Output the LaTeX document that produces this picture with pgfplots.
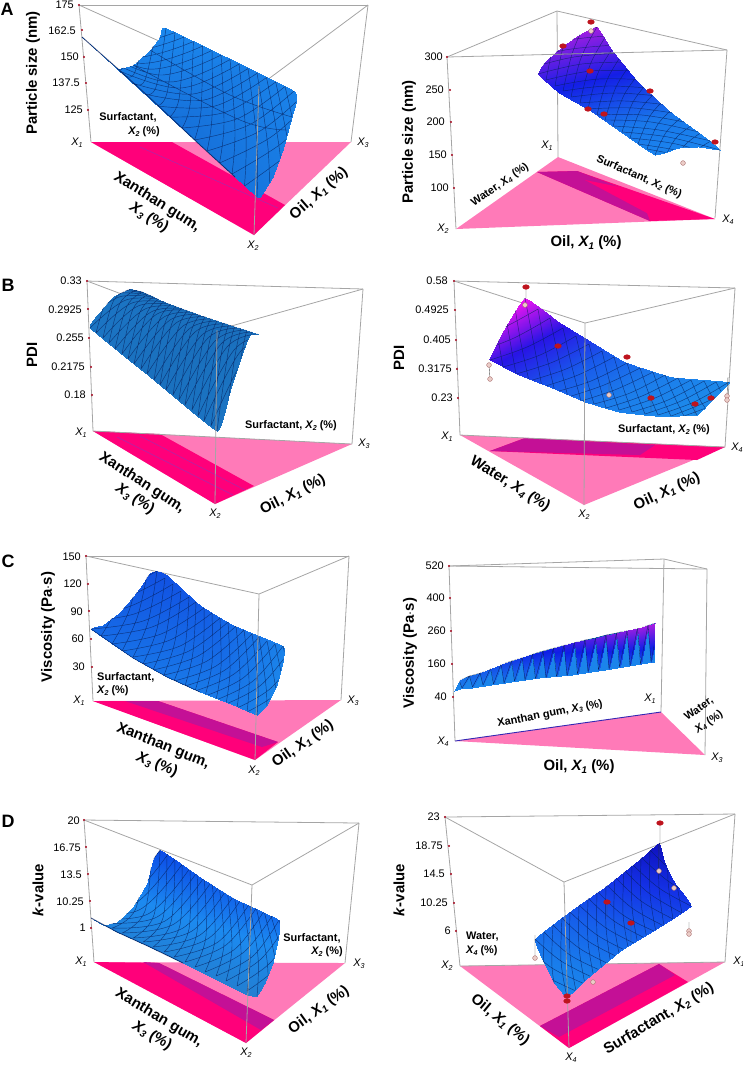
\documentclass[border=0pt]{standalone}
\usepackage{fontspec}
\setmainfont{Liberation Sans}
\usepackage{pgfplots}
\pgfplotsset{compat=1.18}
\definecolor{pinkl}{RGB}{255,122,184}
\definecolor{pinkh}{RGB}{255,0,122}
\definecolor{pinkd}{RGB}{196,16,150}
\definecolor{greyl}{RGB}{165,165,165}
\definecolor{tickr}{RGB}{170,30,50}
\definecolor{redm}{RGB}{190,20,30}
\definecolor{contour}{RGB}{170,40,170}
\definecolor{navy}{RGB}{5,30,90}
\pgfplotsset{
  px/.style={at={(0,0)},anchor=north west,x=1bp,y=1bp,y dir=reverse,xmin=0,xmax=743,ymin=0,ymax=1066,hide axis},
  base/.style={draw=none,fill=pinkl},
  band/.style={draw=none,fill=pinkh},
  bandd/.style={draw=none,fill=pinkd},
  frame/.style={greyl,line width=.8pt,no marks},
  cont/.style={contour,line width=.5pt,no marks},
  fold/.style={navy,opacity=.75,line width=.9pt,no marks},
  grad/.style={patch,patch type=rectangle,shader=interp,point meta=explicit,point meta min=0,point meta max=1},
  lat/.style={draw=navy,opacity=.7,line width=.45pt,no marks,smooth,tension=.6,unbounded coords=jump},
  tk/.style={only marks,mark=*,mark size=.8pt,color=tickr},
  rm/.style={only marks,mark=*,mark size=2.6pt,color=redm},
  pm/.style={only marks,mark=*,mark size=2.4pt,mark options={fill={rgb,255:red,235;green,205;blue,200},draw={rgb,255:red,170;green,110;blue,110}}},
  drop/.style={draw=black!70,line width=.4pt,no marks,unbounded coords=jump},
}
\newcommand\X[1]{\textit{X\raisebox{-.3ex}{\scalebox{.65}{#1}}}}
\tikzset{
  t/.style={anchor=east,inner sep=0,font=\fontsize{11}{11}\selectfont},
  v/.style={inner sep=0,font=\fontsize{11}{11}\selectfont},
  s/.style={inner sep=0,font=\fontsize{11}{11}\selectfont\bfseries},
  b/.style={inner sep=0,font=\fontsize{15}{15}\selectfont\bfseries},
  l/.style={inner sep=0,font=\fontsize{18}{18}\selectfont\bfseries},
}
\begin{document}
\begin{tikzpicture}[x=1bp,y=-1bp]
\useasboundingbox (0,0) rectangle (743,1066);
% floor triangles and back edges
\begin{axis}[px]
\addplot[base] coordinates {(91,142)(351,142)(254,235)};
\addplot[band] coordinates {(91,142)(172,142)(285,205)(254,235)};
\addplot[cont] coordinates {(140,147)(278,208)};
\addplot[base] coordinates {(456,229)(558,157)(715,219)};
\addplot[band] coordinates {(537,172)(577,171)(715,219)(650,221)};
\addplot[bandd] coordinates {(537,172)(577,171)(640,195)(650,221)};
\addplot[band] coordinates {(585,180)(620,187)(700,218)(660,220)};
\addplot[base] coordinates {(93,431)(352,444)(215,504)};
\addplot[band] coordinates {(93,431)(160,434)(254,486)(215,504)};
\addplot[cont] coordinates {(117,437)(233,495)};
\addplot[cont] coordinates {(140,436)(245,490)};
\addplot[base] coordinates {(460,435)(725,447)(584,505)};
\addplot[band] coordinates {(490,451)(525,438)(725,447)(697,460)};
\addplot[bandd] coordinates {(490,451)(525,438)(655,445)(640,455)};
\addplot[base] coordinates {(93,701)(341,700)(255,760)};
\addplot[band] coordinates {(93,701)(158,701)(278,742)(255,760)};
\addplot[bandd] coordinates {(125,701)(158,701)(278,742)(262,747)};
\addplot[base] coordinates {(455,741)(661,712)(705,755)};
\addplot[base] coordinates {(94,962)(345,963)(246,1043)};
\addplot[band] coordinates {(94,962)(159,963)(274,1020)(246,1043)};
\addplot[bandd] coordinates {(143,962)(159,963)(274,1020)(261,1030)};
\addplot[base] coordinates {(460,966)(725,962)(569,1048)};
\addplot[band] coordinates {(540,1026)(659,964)(688,982)(569,1048)};
\addplot[bandd] coordinates {(540,1026)(659,964)(675,975)(559,1037)};
% back edges
\addplot[frame] coordinates {(79,5)(368,5)};
\addplot[frame] coordinates {(79,5)(259,86)(368,5)};
\addplot[frame] coordinates {(79,5)(91,142)};
\addplot[frame] coordinates {(368,5)(351,142)};
\addplot[frame] coordinates {(447,57)(557,11)(727,50)};
\addplot[frame] coordinates {(557,11)(558,157)};
\addplot[frame] coordinates {(87,281)(363,289)};
\addplot[frame] coordinates {(87,281)(217,330)(363,289)};
\addplot[frame] coordinates {(87,281)(93,431)};
\addplot[frame] coordinates {(363,289)(352,444)};
\addplot[frame] coordinates {(93,431)(352,444)};
\addplot[frame] coordinates {(454,281)(735,288)};
\addplot[frame] coordinates {(454,281)(585,323)(735,288)};
\addplot[frame] coordinates {(454,281)(460,435)};
\addplot[frame] coordinates {(735,288)(725,447)};
\addplot[frame] coordinates {(460,435)(725,447)};
\addplot[frame] coordinates {(86,556)(349,556)};
\addplot[frame] coordinates {(86,556)(259,594)(349,556)};
\addplot[frame] coordinates {(86,556)(93,701)};
\addplot[frame] coordinates {(349,556)(341,700)};
\addplot[frame] coordinates {(449,566)(707,569)};
\addplot[frame] coordinates {(449,566)(664,559)(707,569)};
\addplot[frame] coordinates {(664,559)(661,712)};
\addplot[frame] coordinates {(449,566)(455,741)};
\addplot[frame] coordinates {(707,569)(705,755)};
\addplot[draw={rgb,255:red,50;green,40;blue,180},line width=.9pt,no marks] coordinates {(455,741)(661,712)};
\addplot[frame] coordinates {(84,820)(359,823)};
\addplot[frame] coordinates {(84,820)(252,885)(359,823)};
\addplot[frame] coordinates {(84,820)(94,962)};
\addplot[frame] coordinates {(359,823)(345,963)};
\addplot[frame] coordinates {(445,817)(735,814)};
\addplot[frame] coordinates {(445,817)(564,882)(735,814)};
\addplot[frame] coordinates {(445,817)(460,966)};
\addplot[frame] coordinates {(735,814)(725,962)};
\addplot[frame] coordinates {(460,966)(725,962)};
\end{axis}
% surface A left
\begin{scope}
\clip plot[smooth cycle,tension=.2] coordinates {(82,37)(117,68)(133,65)(150,50)(160,37)(166,28)(294,91)(292,117)(283,150)(273,177)(263,193)(257,197)(200,145)};
\begin{axis}[px,colormap={a}{rgb255=(28,138,240) rgb255=(14,80,190)}]
\addplot[grad] table[meta=c,row sep=\\] {x y c\\ 70 20 .0\\ 310 20 .0\\ 310 210 .25\\ 70 210 .8\\};
\addplot[lat] coordinates {
(32,-9)(103,44)(175,32.5)(nan,nan)(44.5,3)(114,51)(184,37)(nan,nan)(57,14)(125,57)(193.4,41.5)(nan,nan)
(69.5,26)(137,63)(202.6,46)(nan,nan)(82,37)(148,69)(211.7,50.5)(nan,nan)(94.5,48)(159,75)(221,55)(nan,nan)
(107,60)(170,82)(230,59.5)(nan,nan)(119.5,71)(181,88)(239,64)(nan,nan)(132,83)(193,94)(248,68.5)(nan,nan)
(144.5,94)(204,100)(257.4,73)(nan,nan)(157,106)(215,106)(266.5,77.5)(nan,nan)(169.5,117)(226,112)(275.7,82)(nan,nan)
(182,128)(237.6,118.6)(285,86.5)(nan,nan)(194.5,140)(249,125)(294,91)(nan,nan)(207,151)(260,131)(303,95.5)(nan,nan)
(219.5,163)(271,137)(312,100)(nan,nan)(232,174)(282,143)(321,104.5)(nan,nan)(244.5,186)(294,149)(330,109)(nan,nan)
(94.5,48)(111,62)(129,10)(nan,nan)(107,60)(123,68)(139,14.5)(nan,nan)(119.5,71)(134,74)(148,19)(nan,nan)
(132,83)(145,80)(157,23.5)(nan,nan)(144.5,94)(156,87)(166,28)(nan,nan)(157,106)(167,93)(175,32.5)(nan,nan)
(169.5,117)(179,99)(184,37)(nan,nan)(182,128)(190,105)(193.4,41.5)(nan,nan)(194.5,140)(201,111)(202.6,46)(nan,nan)
(207,151)(212,117)(212,50.5)(nan,nan)(219.5,163)(224,124)(221,55)(nan,nan)(232,174)(235,130)(230,59.5)(nan,nan)
(244.5,186)(246,136)(239,64)(nan,nan)(257,197)(257,142)(248,68.5)(nan,nan)(269.5,208)(268,148)(257,73)(nan,nan)
(282,220)(280,154)(266.5,77.5)(nan,nan)(294,231)(291,161)(275.7,82)(nan,nan)(307,243)(302,167)(285,86.5)(nan,nan)
(133,65)(240,120)(288,130)(nan,nan)(150,50)(230,95)(292,117)(nan,nan)(259,86)(254,235)
};
\end{axis}
\end{scope}
% surface A right
\begin{scope}
\clip plot[smooth cycle,tension=.2] coordinates {(538,74)(545,62)(562,47)(579,35)(597,27)(612,50)(639,83)(672,113)(705,137)(720,150)(699,147)(679,148)(655,155)(622,133)(589,110)(559,93)};
\begin{axis}[px,colormap={b}{rgb255=(28,138,240) rgb255=(25,120,235) rgb255=(20,30,230) rgb255=(170,30,225)}]
\addplot[grad] table[meta=c,row sep=\\] {x y c\\ 784 -23 1\\ 823 133 0\\ 435 229 0\\ 396 73 1\\};
\addplot[lat] coordinates {
(505,51)(548,35)(597,27)(nan,nan)(513,57)(556,42)(606,36)(nan,nan)(521,62)(565,50)(615,45)(nan,nan)
(530,68)(574,57)(623,53)(nan,nan)(538,74)(582,64)(632,62)(nan,nan)(546,80)(591,71)(641,71)(nan,nan)
(555,86)(599,79)(650,80)(nan,nan)(563,91)(608,86)(659,89)(nan,nan)(571,97)(616,93)(667,97)(nan,nan)
(580,103)(625,101)(676,106)(nan,nan)(588,109)(634,108)(685,115)(nan,nan)(597,115)(642,115)(694,124)(nan,nan)
(605,120)(651,122)(703,133)(nan,nan)(613,126)(659,130)(711,141)(nan,nan)(622,132)(668,137)(720,150)(nan,nan)
(630,138)(676,144)(729,159)(nan,nan)(638,144)(685,152)(738,168)(nan,nan)(647,149)(694,159)(747,177)(nan,nan)
(546,80)(556,36)(571,1)(nan,nan)(555,86)(564,44)(579,9)(nan,nan)(563,91)(573,51)(588,18)(nan,nan)
(571,97)(581,58)(597,27)(nan,nan)(580,103)(590,65)(606,36)(nan,nan)(588,109)(598,73)(615,45)(nan,nan)
(597,115)(607,80)(623,53)(nan,nan)(605,120)(616,87)(632,62)(nan,nan)(613,126)(624,95)(641,71)(nan,nan)
(622,132)(633,102)(650,80)(nan,nan)(630,138)(641,109)(659,89)(nan,nan)(638,144)(650,116)(667,97)(nan,nan)
(647,149)(658,124)(676,106)(nan,nan)(655,155)(667,131)(685,115)(nan,nan)(663,161)(676,138)(694,124)(nan,nan)
(672,167)(684,146)(702,132)(nan,nan)(680,172)(693,153)(711,141)(nan,nan)(689,178)(701,160)(720,150)(nan,nan)
(447,57)(727,50)
};
\end{axis}
\end{scope}
% surface B left
\begin{scope}
\clip plot[smooth cycle,tension=.2] coordinates {(90,328)(100,312)(113,297)(130,289)(143,292)(167,303)(200,315)(233,326)(258,334)(250,335)(242,355)(230,392)(217,431)(150,377)};
\begin{axis}[px,colormap={c}{rgb255=(30,125,205) rgb255=(20,95,170)}]
\addplot[grad] table[meta=c,row sep=\\] {x y c\\ 80 280 .2\\ 270 280 .5\\ 270 440 .2\\ 80 440 .4\\};
\addplot[lat] coordinates {
(65,307)(100,288)(143,292)(nan,nan)(71,313)(107,291)(149,294)(nan,nan)(77,318)(113,294)(154,296)(nan,nan)(84,323)(119,297)(160,298)(nan,nan)
(90,328)(126,300)(166,300)(nan,nan)(96,333)(132,303)(172,303)(nan,nan)(103,338)(138,306)(178,305)(nan,nan)(109,343)(145,309)(183,307)(nan,nan)
(115,349)(151,312)(189,309)(nan,nan)(122,354)(157,314)(195,311)(nan,nan)(128,359)(164,317)(201,313)(nan,nan)(134,364)(170,320)(206,315)(nan,nan)
(141,369)(176,323)(212,317)(nan,nan)(147,374)(183,326)(218,319)(nan,nan)(154,380)(189,329)(224,321)(nan,nan)(160,385)(195,332)(229,324)(nan,nan)
(166,390)(202,335)(235,326)(nan,nan)(173,395)(208,338)(241,328)(nan,nan)(179,400)(215,341)(247,330)(nan,nan)(185,405)(221,344)(252,332)(nan,nan)
(192,410)(227,347)(258,334)(nan,nan)(198,416)(234,350)(264,336)(nan,nan)(204,421)(240,352)(270,338)(nan,nan)(211,426)(246,355)(275,340)(nan,nan)
(96,333)(108,297)(126,286)(nan,nan)(103,338)(114,300)(132,288)(nan,nan)(109,343)(120,303)(137,290)(nan,nan)(115,349)(127,306)(143,292)(nan,nan)
(122,354)(133,309)(149,294)(nan,nan)(128,359)(140,312)(155,296)(nan,nan)(134,364)(146,315)(160,298)(nan,nan)(141,369)(152,318)(166,300)(nan,nan)
(147,374)(159,321)(172,303)(nan,nan)(154,380)(165,323)(178,305)(nan,nan)(160,385)(171,326)(183,307)(nan,nan)(166,390)(178,329)(189,309)(nan,nan)
(173,395)(184,332)(195,311)(nan,nan)(179,400)(190,335)(201,313)(nan,nan)(185,405)(197,338)(206,315)(nan,nan)(192,410)(203,341)(212,317)(nan,nan)
(198,416)(209,344)(218,319)(nan,nan)(204,421)(216,347)(224,321)(nan,nan)(211,426)(222,350)(229,324)(nan,nan)(217,431)(228,353)(235,326)(nan,nan)
(223,436)(235,356)(241,328)(nan,nan)(230,441)(241,358)(247,330)(nan,nan)(236,446)(248,361)(252,332)(nan,nan)(242,452)(254,364)(258,334)(nan,nan)
(217,330)(215,504)
};
\end{axis}
\end{scope}
% surface B right
\begin{scope}
\clip plot[smooth cycle,tension=.2] coordinates {(490,357)(505,328)(525,298)(559,322)(585,338)(625,362)(672,377)(729,382)(719,393)(697,415)(655,416)(619,412)(585,402)(552,388)(519,375)(490,360)};
\begin{axis}[px,colormap={d}{rgb255=(28,138,235) rgb255=(28,138,235) rgb255=(28,125,235) rgb255=(25,90,235) rgb255=(40,20,230) rgb255=(240,20,240)}]
\addplot[grad] table[meta=c,row sep=\\] {x y c\\ 745 178 1\\ 850 371 0\\ 410 611 0\\ 305 418 1\\};
\addplot[lat] coordinates {
(451,336)(488,320)(525,298)(nan,nan)(464,344)(501,329)(538,309)(nan,nan)(477,352)(514,338)(550,318)(nan,nan)(490,360)(527,347)(563,328)(nan,nan)
(503,367)(540,355)(576,336)(nan,nan)(516,374)(553,362)(589,344)(nan,nan)(529,381)(566,369)(602,351)(nan,nan)(542,387)(578,375)(614,357)(nan,nan)
(555,392)(591,381)(627,363)(nan,nan)(568,397)(604,385)(640,368)(nan,nan)(581,401)(617,389)(653,372)(nan,nan)(594,404)(630,393)(665,375)(nan,nan)
(606,408)(642,396)(678,378)(nan,nan)(619,410)(655,398)(691,380)(nan,nan)(632,412)(668,400)(704,381)(nan,nan)(645,414)(681,401)(716,382)(nan,nan)
(658,415)(694,402)(729,382)(nan,nan)(671,416)(706,402)(742,382)(nan,nan)(684,416)(720,402)(755,382)(nan,nan)
(503,367)(495,320)(487,268)(nan,nan)(516,374)(508,329)(500,278)(nan,nan)(529,381)(520,338)(512,288)(nan,nan)(542,387)(534,345)(525,298)(nan,nan)
(555,392)(546,353)(538,309)(nan,nan)(568,397)(559,360)(550,318)(nan,nan)(581,401)(572,367)(563,328)(nan,nan)(594,404)(585,373)(576,336)(nan,nan)
(606,408)(598,379)(589,344)(nan,nan)(619,410)(610,383)(602,351)(nan,nan)(632,412)(623,387)(614,357)(nan,nan)(645,414)(636,391)(627,363)(nan,nan)
(658,415)(649,394)(640,368)(nan,nan)(671,416)(662,397)(653,372)(nan,nan)(684,416)(675,398)(665,375)(nan,nan)(697,415)(688,399)(678,378)(nan,nan)
(710,414)(700,400)(691,380)(nan,nan)(723,413)(714,400)(704,381)(nan,nan)(736,412)(726,400)(716,382)(nan,nan)
(585,323)(584,505)
};
\end{axis}
\end{scope}
% surface C left
\begin{scope}
\clip plot[smooth cycle,tension=.2] coordinates {(91,629)(103,625)(120,612)(137,592)(150,573)(157,571)(167,575)(200,605)(233,625)(283,646)(283,662)(277,685)(267,705)(257,715)(233,705)(200,692)(167,677)(133,658)};
\begin{axis}[px,colormap={e}{rgb255=(28,138,235) rgb255=(15,70,225)}]
\addplot[grad] table[meta=c,row sep=\\] {x y c\\ 60 640 .4\\ 170 545 1\\ 310 635 0\\ 265 745 0\\};
\addplot[lat] coordinates {
(50,601)(107,594)(157,571)(nan,nan)(60,608)(116,601)(165,578)(nan,nan)(70,615)(125,608)(173,584)(nan,nan)(81,622)(134,614)(181,591)(nan,nan)
(91,629)(143,621)(189,597)(nan,nan)(101,636)(152,627)(196,602)(nan,nan)(112,644)(161,634)(204,608)(nan,nan)(122,651)(170,640)(212,613)(nan,nan)
(133,657)(180,646)(220,618)(nan,nan)(143,664)(189,651)(228,622)(nan,nan)(153,670)(198,656)(236,626)(nan,nan)(164,675)(207,661)(244,630)(nan,nan)
(174,681)(216,666)(252,634)(nan,nan)(185,686)(225,670)(259,637)(nan,nan)(195,691)(234,674)(267,641)(nan,nan)(205,696)(243,678)(275,644)(nan,nan)
(216,700)(253,681)(283,646)(nan,nan)(226,704)(261,685)(291,649)(nan,nan)(237,708)(271,688)(299,652)(nan,nan)(247,712)(280,691)(307,655)(nan,nan)
(101,636)(120,601)(133,550)(nan,nan)(112,644)(130,608)(141,557)(nan,nan)(122,651)(138,615)(149,564)(nan,nan)(133,657)(148,622)(157,571)(nan,nan)
(143,664)(157,629)(165,578)(nan,nan)(153,670)(166,635)(173,584)(nan,nan)(164,675)(175,641)(181,591)(nan,nan)(174,681)(185,647)(189,597)(nan,nan)
(185,686)(193,652)(196,602)(nan,nan)(195,691)(203,657)(204,608)(nan,nan)(205,696)(212,663)(212,613)(nan,nan)(216,700)(221,667)(220,618)(nan,nan)
(226,704)(230,671)(228,622)(nan,nan)(237,708)(240,675)(236,626)(nan,nan)(247,712)(249,679)(244,630)(nan,nan)(257,715)(258,683)(252,634)(nan,nan)
(267,719)(266,686)(259,637)(nan,nan)(278,723)(276,690)(267,641)(nan,nan)(288,727)(285,693)(275,644)(nan,nan)(298,731)(294,696)(283,646)(nan,nan)
(259,594)(255,760)
};
\end{axis}
\end{scope}
% surface C right
\begin{scope}
\clip plot[tension=.3] coordinates {(454,691)(460,680)(469,676)(480,673)(505,663)(539,652)(572,643)(605,635)(639,628)(655,623)(654,662)(605,670)(572,675)(539,678)(505,683)(472,688)(460,689)};
\begin{axis}[px,colormap={f}{rgb255=(28,138,235) rgb255=(15,30,230) rgb255=(170,30,225)}]
\addplot[grad] table[meta=c,row sep=\\] {x y c\\ 450 660 .03\\ 660 610 .03\\ 660 680 .03\\ 450 700 .03\\};
\addplot[patch,shader=faceted interp,point meta=explicit,point meta min=0,point meta max=1,faceted color=navy,line width=.3pt] table[meta=c,row sep=\\] {x y c\\
459 680 .12\\ 469.5 676 .12\\ 462 688 .08\\
469.5 676 .17\\ 480 673 .17\\ 472.5 687 .08\\
480 673 .22\\ 490.5 668 .22\\ 483 685 .08\\
490.5 668 .27\\ 501 664 .27\\ 493.5 684 .1\\
501 664 .32\\ 511.5 661 .32\\ 504 683 .1\\
511.5 661 .37\\ 522 657 .37\\ 514.5 681 .1\\
522 657 .42\\ 532.5 654 .42\\ 525 680 .12\\
532.5 654 .47\\ 543 651 .47\\ 535.5 679 .12\\
543 651 .52\\ 553.5 648 .52\\ 546 678 .15\\
553.5 648 .57\\ 564 645 .57\\ 556.5 677 .15\\
564 645 .62\\ 574.5 642 .62\\ 567 676 .15\\
574.5 642 .67\\ 585 640 .67\\ 577.5 674 .15\\
585 640 .72\\ 595.5 638 .72\\ 588 672 .18\\
595.5 638 .77\\ 606 635 .77\\ 598.5 670 .18\\
606 635 .82\\ 616.5 633 .82\\ 609 669 .18\\
616.5 633 .87\\ 627 630 .87\\ 619.5 667 .18\\
627 630 .92\\ 637.5 628 .92\\ 630 666 .2\\
637.5 628 .96\\ 648 625 .96\\ 640.5 664 .2\\
648 625 1\\ 658.5 622 1\\ 651 662 .2\\
};
\end{axis}
\end{scope}
% surface D left
\begin{scope}
\clip plot[smooth cycle,tension=.2] coordinates {(91,918)(103,925)(117,922)(133,907)(147,883)(153,860)(160,850)(173,858)(200,877)(233,898)(279,920)(278,940)(273,963)(265,983)(257,996)(247,995)(217,980)(183,963)(150,947)(117,932)};
\begin{axis}[px,colormap={g}{rgb255=(35,125,205) rgb255=(28,138,240) rgb255=(10,70,230)}]
\addplot[grad] table[meta=c,row sep=\\] {x y c\\ 85 930 .1\\ 160 845 1\\ 300 915 .8\\ 270 1010 .0\\};
\addplot[lat] coordinates {
(49,899)(113,899)(160,850)(nan,nan)(60,903)(122,903)(168,854)(nan,nan)(70,908)(131,906)(175,859)(nan,nan)(81,913)(139,910)(183,863)(nan,nan)
(91,918)(148,914)(190,868)(nan,nan)(101,923)(157,917)(197,872)(nan,nan)(112,928)(165,921)(205,876)(nan,nan)(122,933)(174,924)(212,881)(nan,nan)
(133,938)(183,928)(220,885)(nan,nan)(143,942)(192,931)(227,889)(nan,nan)(153,947)(200,935)(235,894)(nan,nan)(164,952)(209,938)(242,898)(nan,nan)
(174,957)(218,942)(250,903)(nan,nan)(185,962)(226,945)(257,907)(nan,nan)(195,967)(235,949)(264,911)(nan,nan)(205,972)(244,952)(272,916)(nan,nan)
(216,976)(253,956)(279,920)(nan,nan)(226,981)(261,959)(287,924)(nan,nan)(237,986)(270,963)(294,929)(nan,nan)(247,991)(279,966)(302,933)(nan,nan)
(101,923)(128,904)(137,837)(nan,nan)(112,928)(136,908)(145,841)(nan,nan)(122,933)(145,911)(152,846)(nan,nan)(133,938)(154,915)(160,850)(nan,nan)
(143,942)(163,918)(167,854)(nan,nan)(153,947)(171,922)(175,859)(nan,nan)(164,952)(180,925)(182,863)(nan,nan)(174,957)(189,929)(190,868)(nan,nan)
(185,962)(197,932)(197,872)(nan,nan)(195,967)(206,936)(204,876)(nan,nan)(205,972)(215,939)(212,881)(nan,nan)(216,976)(224,943)(219,885)(nan,nan)
(226,981)(232,946)(227,889)(nan,nan)(237,986)(241,950)(234,894)(nan,nan)(247,991)(250,953)(242,898)(nan,nan)(257,996)(258,957)(249,902)(nan,nan)
(268,1001)(267,960)(256,907)(nan,nan)(278,1006)(276,964)(264,911)(nan,nan)(289,1011)(285,967)(271,916)(nan,nan)(299,1015)(293,971)(279,920)(nan,nan)
(252,885)(246,1043)
};
\end{axis}
\end{scope}
% surface D right
\begin{scope}
\clip plot[smooth cycle,tension=.2] coordinates {(535,939)(572,910)(605,887)(639,860)(659,843)(665,863)(675,883)(691,906)(655,930)(622,950)(589,977)(567,997)(554,983)(544,963)};
\begin{axis}[px,colormap={h}{rgb255=(28,138,235) rgb255=(25,125,235) rgb255=(22,95,235) rgb255=(20,50,230) rgb255=(15,15,190)}]
\addplot[grad] table[meta=c,row sep=\\] {x y c\\ 855 882 1\\ 819 1062 0\\ 427 984 0\\ 463 804 1\\};
\addplot[lat] coordinates {
(540,1017)(535,981)(535,939)(nan,nan)(549,1010)(544,975)(544,932)(nan,nan)(558,1004)(552,967)(553,925)(nan,nan)(567,997)(561,961)(562,918)(nan,nan)
(576,991)(570,954)(570,912)(nan,nan)(585,984)(579,947)(579,905)(nan,nan)(594,978)(588,941)(588,898)(nan,nan)(602,971)(597,934)(597,891)(nan,nan)
(611,965)(606,927)(606,884)(nan,nan)(620,958)(614,921)(615,877)(nan,nan)(629,952)(623,914)(624,870)(nan,nan)(638,945)(632,907)(632,864)(nan,nan)
(647,939)(641,901)(641,857)(nan,nan)(656,932)(650,894)(650,850)(nan,nan)(664,926)(659,887)(659,843)(nan,nan)(673,919)(668,880)(668,836)(nan,nan)
(682,913)(676,874)(677,829)(nan,nan)(691,906)(685,867)(686,822)(nan,nan)
(576,991)(544,975)(517,953)(nan,nan)(585,984)(552,968)(526,946)(nan,nan)(594,978)(561,961)(535,939)(nan,nan)(602,971)(570,955)(544,932)(nan,nan)
(611,965)(579,948)(553,925)(nan,nan)(620,958)(588,941)(562,918)(nan,nan)(629,952)(597,935)(570,912)(nan,nan)(638,945)(606,928)(579,905)(nan,nan)
(647,939)(614,921)(588,898)(nan,nan)(656,932)(623,915)(597,891)(nan,nan)(664,926)(632,908)(606,884)(nan,nan)(673,919)(641,901)(615,877)(nan,nan)
(682,913)(650,894)(624,870)(nan,nan)(691,906)(659,888)(632,864)(nan,nan)(700,900)(668,881)(641,857)(nan,nan)(709,893)(676,874)(650,850)(nan,nan)
(718,887)(685,868)(659,843)(nan,nan)(564,882)(569,1048)
};
\end{axis}
\end{scope}
% front edges, folds, ticks and design points
\begin{axis}[px]
\addplot[frame] coordinates {(259,86)(254,235)};
\addplot[frame] coordinates {(447,57)(727,50)};
\addplot[frame] coordinates {(447,57)(456,229)};
\addplot[frame] coordinates {(727,50)(715,218)};
\addplot[frame] coordinates {(217,330)(215,504)};
\addplot[frame] coordinates {(585,323)(584,505)};
\addplot[frame] coordinates {(259,594)(255,760)};
\addplot[frame] coordinates {(252,885)(246,1043)};
\addplot[frame] coordinates {(564,882)(569,1048)};
\addplot[fold] coordinates {(82,37)(100,53)(117,68)(150,98)(200,145)(235,177)};
\addplot[fold] coordinates {(91,918)(117,932)(150,947)(183,963)};
\addplot[fold,line width=.6pt] coordinates {(91,629)(133,658)(167,677)(200,692)};
\addplot[tk] coordinates {(79,5)(82,30)(84,57)(86,83)(88,110)(447,57)(450,90)(451,122)(452,155)(454,188)
 (87,281)(88,309)(89,338)(91,367)(92,395)(454,281)(455,310)(456,340)(457,369)(458,398)
 (86,556)(88,584)(89,611)(91,639)(92,667)(449,566)(450,598)(451,631)(452,664)(453,697)
 (84,820)(86,847)(88,874)(90,901)(91,928)(445,817)(449,846)(451,874)(454,903)(456,931)};
\addplot[drop] coordinates {(526,287)(526,298)(nan,nan)(489,365)(490,379)(nan,nan)(609,380)(609,395)(nan,nan)(651,398)(651,412)(nan,nan)(695,404)(695,415)(nan,nan)(728,377)(727,396)
 (nan,nan)(660,823)(660,843)(nan,nan)(659,843)(659,871)(nan,nan)(689,922)(689,931)(nan,nan)(535,935)(535,958)(nan,nan)(631,923)(631,940)(nan,nan)(607,902)(607,917)};
\addplot[rm,mark options={xscale=1.3,yscale=.9}] coordinates {(591,22)(563,46)(590,71)(588,109)(604,114)(650,91)(715,142)
 (526,287)(558,346)(627,357)(651,398)(695,404)(711,398)
 (660,823)(607,902)(631,923)(567,996)(567,1001)};
\addplot[pm] coordinates {(591,31)(683,163)(525,305)(489,365)(490,379)(609,395)(727,396)(727,400)
 (659,871)(674,888)(689,931)(689,934)(535,958)(593,982)};
\end{axis}
% text
\node[l] at (7,9) {A}; \node[l] at (8,285) {B}; \node[l] at (8,561) {C}; \node[l] at (8,821) {D};
\node[b,rotate=90] at (33,73) {Particle size (nm)};
\foreach \a/\x/\y in {175/74/5,162.5/76/31,150/79/57,137.5/80/83,125/83/110} \node[t] at (\x,\y) {\a};
\node[v] at (77,143) {\X{1}}; \node[v] at (253,246) {\X{2}}; \node[v] at (363,143) {\X{3}};
\node[s] at (128,117) {Surfactant,}; \node[s] at (144,132) {\X{2} (\%)};
\node[b,rotate=-32] at (157,202) {Xanthan gum,}; \node[b,rotate=-32] at (149,218) {\X{3} (\%)};
\node[b,rotate=41] at (319,194) {Oil, \X{1} (\%)};
\node[b,rotate=90] at (409,142) {Particle size (nm)};
\foreach \a/\x/\y in {300/443/57,250/444/90,200/445/122,150/447/155,100/449/188} \node[t] at (\x,\y) {\a};
\node[v] at (547,146) {\X{1}}; \node[v] at (443,229) {\X{2}}; \node[v] at (728,220) {\X{4}};
\node[b] at (586,243) {Oil, \X{1} (\%)};
\node[s,rotate=35] at (500,185) {Water, \X{4} (\%)};
\node[s,rotate=-23.5] at (639,177) {Surfactant, \X{2} (\%)};
\node[b,rotate=90] at (32,355) {PDI};
\foreach \a/\x/\y in {0.33/82/281,0.2925/82/310,0.255/84/338,0.2175/85/367,0.18/86/395} \node[t] at (\x,\y) {\a};
\node[v] at (81,433) {\X{1}}; \node[v] at (215,514) {\X{2}}; \node[v] at (364,444) {\X{3}};
\node[s] at (291,426) {Surfactant, \X{2} (\%)};
\node[b,rotate=-33] at (142,483) {Xanthan gum,}; \node[b,rotate=-33] at (135,499) {\X{3} (\%)};
\node[b,rotate=27] at (293,495) {Oil, \X{1} (\%)};
\node[b,rotate=90] at (399,358) {PDI};
\foreach \a/\x/\y in {0.58/448/281,0.4925/449/310,0.405/451/340,0.3175/452/369,0.23/453/398} \node[t] at (\x,\y) {\a};
\node[v] at (447,437) {\X{1}}; \node[v] at (584,515) {\X{2}}; \node[v] at (737,448) {\X{4}};
\node[s] at (664,430) {Surfactant, \X{2} (\%)};
\node[b,rotate=-32] at (510,484) {Water, \X{4} (\%)};
\node[b,rotate=25] at (667,492) {Oil, \X{1} (\%)};
\node[b,rotate=90] at (48,627) {Viscosity (Pa$\cdot$s)};
\foreach \a/\x/\y in {150/81/557,120/82/584,90/83/612,60/84/639,30/85/667} \node[t] at (\x,\y) {\a};
\node[v] at (79,701) {\X{1}}; \node[v] at (254,771) {\X{2}}; \node[v] at (353,701) {\X{3}};
\node[s,anchor=west] at (97,677) {Surfactant,}; \node[s,anchor=west] at (97,691) {\X{2} (\%)};
\node[b,rotate=-22] at (163,746) {Xanthan gum,}; \node[b,rotate=-22] at (157,765) {\X{3} (\%)};
\node[b,rotate=35] at (303,744) {Oil, \X{1} (\%)};
\node[b,rotate=90] at (410,653) {Viscosity (Pa$\cdot$s)};
\foreach \a/\x/\y in {520/444/566,400/445/598,260/446/631,160/446/664,40/447/697} \node[t] at (\x,\y) {\a};
\node[v] at (443,742) {\X{4}}; \node[v] at (650,699) {\X{1}}; \node[v] at (717,758) {\X{3}};
\node[s,rotate=11] at (550,714) {Xanthan gum, \X{3} (\%)};
\node[s,rotate=35] at (699,709) {Water,}; \node[s,rotate=35] at (709,722) {\X{4} (\%)};
\node[b] at (579,767) {Oil, \X{1} (\%)};
\node[b,rotate=90] at (38,890) {\textit{k}-value};
\foreach \a/\x/\y in {20/80/821,16.75/81/848,13.5/82/875,10.25/84/902,1/86/928} \node[t] at (\x,\y) {\a};
\node[v] at (81,962) {\X{1}}; \node[v] at (246,1053) {\X{2}}; \node[v] at (359,964) {\X{3}};
\node[s] at (312,938) {Surfactant,}; \node[s] at (327,952) {\X{2} (\%)};
\node[b,rotate=-31] at (159,1018) {Xanthan gum,}; \node[b,rotate=-31] at (152,1036) {\X{3} (\%)};
\node[b,rotate=36] at (319,1010) {Oil, \X{1} (\%)};
\node[b,rotate=90] at (399,890) {\textit{k}-value};
\foreach \a/\x/\y in {23/440/817,18.75/443/846,14.5/445/874,10.25/448/903,6/451/931} \node[t] at (\x,\y) {\a};
\node[v] at (447,966) {\X{2}}; \node[v] at (739,962) {\X{1}}; \node[v] at (571,1058) {\X{4}};
\node[s,anchor=west] at (466,937) {Water,}; \node[s,anchor=west] at (466,951) {\X{4} (\%)};
\node[b,rotate=-39.5] at (500,1020) {Oil, \X{1} (\%)};
\node[b,rotate=31] at (659,1019) {Surfactant, \X{2} (\%)};
\end{tikzpicture}
\end{document}
